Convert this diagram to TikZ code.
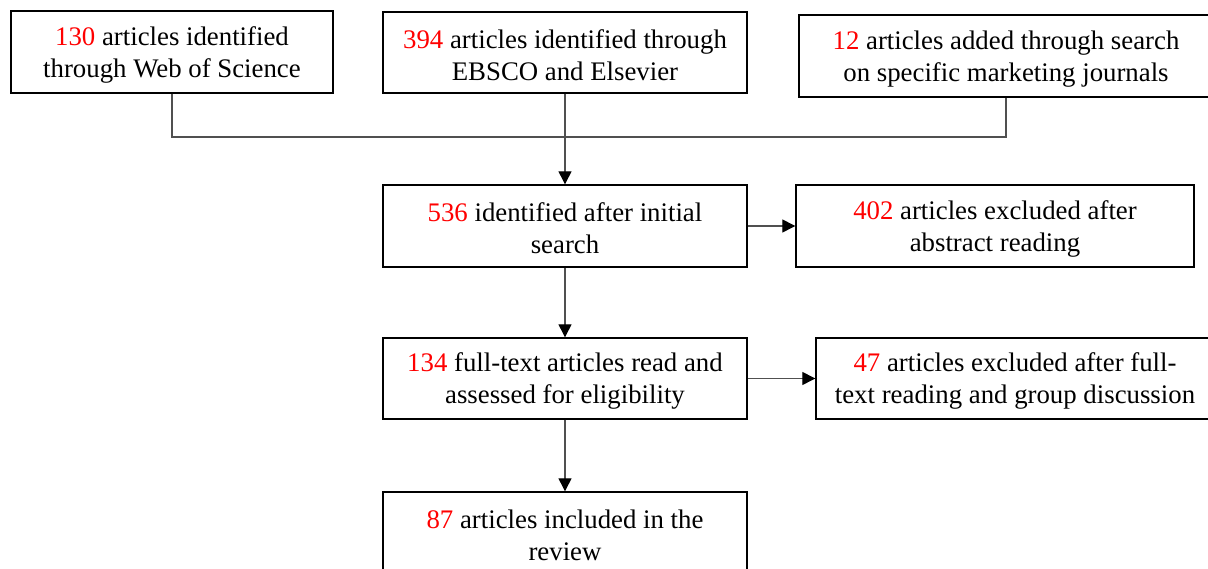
\documentclass[tikz,border=0pt]{standalone}
\usepackage{fontspec}
\setmainfont{Liberation Serif}
\usetikzlibrary{arrows.meta}
\definecolor{conn}{RGB}{80,80,80}
\definecolor{num}{RGB}{255,0,0}
\tikzset{
  box/.style={draw=black, line width=1.4pt, rectangle, align=center, inner sep=0pt,
    font=\fontsize{26.8pt}{32pt}\selectfont},
  conline/.style={draw=conn, line width=1.3pt},
  conarrow/.style={conline, -{Triangle[length=13pt,width=13pt,color=black]}}
}
\newcommand{\nm}[1]{\rule{0pt}{24pt}\textcolor{num}{#1}}
\begin{document}
\begin{tikzpicture}[x=1pt,y=-1pt]
\useasboundingbox (0,0) rectangle (1208,569);
% boxes: centre, width, height
\node[box, minimum width=322pt, minimum height=82pt] (b1) at (172,52)
  {\nm{130} articles identified\\through Web of Science};
\node[box, minimum width=364pt, minimum height=81pt] (b2) at (565,52.5)
  {\nm{394} articles identified through\\EBSCO and Elsevier};
\node[box, minimum width=414pt, minimum height=82pt] (b3) at (1006,56)
  {\nm{12} articles added through search\\on specific marketing journals};
\node[box, minimum width=364pt, minimum height=82pt] (b4) at (565,226)
  {\nm{536} identified after initial\\search};
\node[box, minimum width=398pt, minimum height=82pt] (b5) at (995,226)
  {\nm{402} articles excluded after\\abstract reading};
\node[box, minimum width=364pt, minimum height=81pt] (b6) at (565,378.5)
  {\nm{134} full-text articles read and\\assessed for eligibility};
\node[box, minimum width=398pt, minimum height=81pt] (b7) at (1015,378.5)
  {\nm{47} articles excluded after full-\\text reading and group discussion};
\node[box, minimum width=364pt, minimum height=82pt] (b8) at (565,533)
  {\nm{87} articles included in the\\review};
% merge
\coordinate (m1) at (172,137);
\coordinate (m3) at (1006,137);
\draw[conline] (b1.south) -- (m1) -- (m3) -- (b3.south);
\draw[conarrow] (b2.south) -- (b4.north);
\draw[conarrow] (b4.east) -- (b5.west);
\draw[conarrow] (b4.south) -- (b6.north);
\draw[conarrow] (b6.east) -- (b7.west);
\draw[conarrow] (b6.south) -- (b8.north);
\end{tikzpicture}
\end{document}
